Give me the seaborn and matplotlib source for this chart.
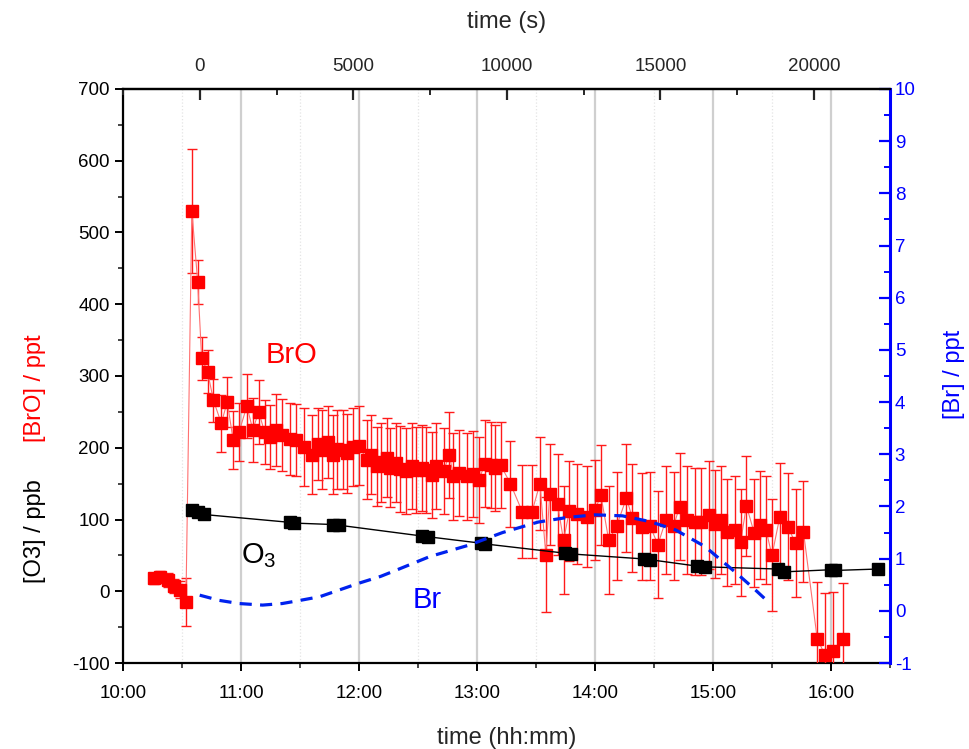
import matplotlib
matplotlib.use("Agg")
import matplotlib.pyplot as plt
from matplotlib.ticker import MultipleLocator, FixedLocator
import seaborn as sns
import numpy as np
import pandas as pd

sns.set_theme(style="white")
plt.rcParams['font.family'] = ['Liberation Sans', 'DejaVu Sans']
plt.rcParams['mathtext.default'] = 'regular'
plt.rcParams['axes.unicode_minus'] = False

# ---- data ----
# BrO (ppt): time, value, error
bro_time = ["10:16", "10:19", "10:23", "10:26", "10:29", "10:32",
            "10:35", "10:38", "10:40", "10:43", "10:46", "10:50", "10:53", "10:56", "10:59",
            "11:03", "11:06", "11:09", "11:12", "11:15", "11:18", "11:21", "11:25", "11:28",
            "11:32", "11:36", "11:39", "11:41", "11:44", "11:47", "11:49", "11:52", "11:54",
            "11:57", "12:00", "12:04", "12:06", "12:09", "12:11", "12:14", "12:16", "12:19",
            "12:21", "12:24", "12:27", "12:29", "12:32", "12:34", "12:37", "12:39", "12:43",
            "12:46", "12:48", "12:51", "12:55", "12:58", "13:01", "13:04", "13:07", "13:09",
            "13:12", "13:17", "13:23", "13:28", "13:32", "13:35", "13:37", "13:41", "13:44",
            "13:47", "13:51", "13:56", "14:00", "14:03", "14:07", "14:11", "14:16", "14:19",
            "14:24", "14:28", "14:32", "14:36", "14:40", "14:43", "14:47", "14:51", "14:54",
            "14:58", "15:01", "15:04", "15:07", "15:11", "15:14", "15:17", "15:21", "15:24",
            "15:27", "15:30", "15:34", "15:38", "15:42", "15:46", "15:53", "15:57", "16:01",
            "16:06"]
bro_value = [18, 20, 16, 7, 2, -15,
             530, 431, 325, 306, 266, 234, 264, 211, 222,
             258, 225, 250, 222, 215, 225, 218, 212, 211,
             201, 190, 205, 197, 208, 190, 198, 197, 192,
             201, 203, 183, 190, 174, 180, 186, 172, 179,
             170, 167, 175, 169, 172, 169, 162, 174, 168,
             190, 160, 165, 160, 163, 155, 178, 176, 172,
             176, 150, 111, 111, 150, 51, 135, 121, 71,
             112, 108, 104, 113, 134, 71, 91, 130, 102,
             90, 91, 65, 99, 91, 118, 99, 97, 97,
             106, 94, 99, 82, 85, 68, 119, 81, 92,
             85, 50, 104, 90, 67, 83, -66, -89, -83,
             -67]
bro_error = [8, 8, 10, 10, 12, 33,
             86, 30, 30, 30, 30, 40, 35, 40, 40,
             45, 45, 45, 45, 45, 50, 50, 50, 50,
             55, 55, 50, 55, 50, 55, 55, 55, 55,
             55, 55, 55, 55, 55, 55, 55, 55, 55,
             60, 60, 60, 60, 60, 60, 60, 60, 60,
             60, 60, 60, 60, 60, 60, 60, 60, 60,
             60, 60, 65, 65, 65, 80, 70, 70, 75,
             70, 70, 70, 70, 70, 75, 75, 75, 75,
             75, 75, 75, 75, 75, 75, 75, 75, 75,
             75, 75, 75, 75, 75, 75, 70, 75, 75,
             75, 78, 75, 75, 75, 70, 79, 87, 82,
             79]

# O3 (ppb)
o3_time = ["10:35", "10:38", "10:41", "11:25", "11:27", "11:47", "11:50", "12:32",
           "12:35", "13:02", "13:04", "13:45", "13:48", "14:25", "14:28", "14:52",
           "14:56", "15:33", "15:36", "16:00", "16:02", "16:24"]
o3_value = [113, 110, 107, 96, 95, 93, 92, 77, 76, 67, 66, 53, 52, 45, 44, 35,
            34, 31, 27, 30, 29, 31]

# Br (ppt, right axis)
br_time = ["10:39", "10:49", "10:59", "11:11", "11:21", "11:30", "11:40", "11:50",
           "12:00", "12:11", "12:19", "12:36", "12:56", "13:13", "13:31", "13:46",
           "14:00", "14:14", "14:28", "14:41", "14:56", "15:12", "15:21", "15:29"]
br_value = [0.30, 0.20, 0.14, 0.11, 0.14, 0.20, 0.27, 0.40,
            0.53, 0.66, 0.78, 1.04, 1.26, 1.50, 1.70, 1.79,
            1.84, 1.82, 1.71, 1.55, 1.23, 0.72, 0.42, 0.14]

hour_ticks = [10, 11, 12, 13, 14, 15, 16]
sec_ticks = [0, 5000, 10000, 15000, 20000]


def to_hours(times):
    t = pd.to_datetime(pd.Series(times), format="%H:%M")
    return (t.dt.hour + t.dt.minute / 60.0).to_numpy()


bro = pd.DataFrame({'hours': to_hours(bro_time), 'BrO': bro_value, 'err': bro_error})
o3 = pd.DataFrame({'hours': to_hours(o3_time), 'O3': o3_value})
br = pd.DataFrame({'hours': to_hours(br_time), 'Br': br_value})

# ---- figure ----
fig = plt.figure(figsize=(9.7, 7.49), dpi=100)
ax = fig.add_axes([0.1268, 0.1148, 0.7907, 0.7664])

# grid
ax.set_xlim(10, 16.5)
ax.set_ylim(-100, 700)
ax.xaxis.set_major_locator(FixedLocator(hour_ticks))
ax.xaxis.set_minor_locator(MultipleLocator(0.5))
ax.set_xticklabels([f"{h}:00" for h in hour_ticks])
ax.yaxis.set_major_locator(MultipleLocator(100))
ax.yaxis.set_minor_locator(MultipleLocator(50))
ax.grid(False)
ax.grid(True, axis='x', which='major', color='#cfcfcf', lw=1.6, zorder=0)
ax.grid(True, axis='x', which='minor', color='#e4e4e4', lw=0.9, ls=':', zorder=0)

# BrO
ax.errorbar(bro['hours'], bro['BrO'], yerr=bro['err'], fmt='none',
            ecolor='#ff1a1a', elinewidth=1.0, capsize=3.5, capthick=1.0, zorder=3)
sns.lineplot(data=bro, x='hours', y='BrO', ax=ax, color='#ff7070', lw=0.8,
             sort=False, estimator=None, zorder=3)
ax.plot(bro['hours'], bro['BrO'], ls='none', marker='s', ms=9,
        color='#ff0000', mec='#ff0000', zorder=4)

# O3
sns.lineplot(data=o3, x='hours', y='O3', ax=ax, color='black', lw=1.0,
             sort=False, estimator=None, zorder=5)
ax.plot(o3['hours'], o3['O3'], ls='none', marker='s', ms=9,
        color='black', zorder=6)

ax.set_xlabel("time (hh:mm)", fontsize=17, labelpad=18)
ax.set_ylabel("")
ax.tick_params(axis='both', which='major', labelsize=13.5, direction='out',
               length=6, width=1.4, colors='black', top=False, right=False,
               bottom=True, left=True, labelleft=True)
ax.tick_params(axis='x', which='major', pad=10)
ax.tick_params(axis='both', which='minor', direction='out', length=3.5,
               width=1.2, top=False, right=False, bottom=True, left=True)
for s in ['left', 'bottom', 'top']:
    ax.spines[s].set_color('black')
    ax.spines[s].set_linewidth(1.6)
ax.spines['right'].set_visible(False)

# right axis: Br
ax_r = ax.twinx()
ax_r.set_ylim(-1, 10)
sns.lineplot(data=br, x='hours', y='Br', ax=ax_r, color='#0022ee', lw=2.3,
             sort=False, estimator=None, zorder=5)
ax_r.lines[0].set_linestyle((0, (3.8, 2.6)))
ax_r.set_ylabel("")
ax_r.yaxis.set_major_locator(MultipleLocator(1))
ax_r.yaxis.set_minor_locator(MultipleLocator(0.5))
ax_r.tick_params(axis='y', which='major', direction='in', length=8, width=1.6,
                 colors='#0000ff', labelsize=13.5, right=True, left=False)
ax_r.tick_params(axis='y', which='minor', direction='in', length=4.5, width=1.4,
                 colors='#0000ff', right=True, left=False)
ax_r.spines['right'].set_color('#0000ff')
ax_r.spines['right'].set_linewidth(2.2)
ax_r.spines['left'].set_visible(False)
ax_r.spines['top'].set_visible(False)
ax_r.spines['bottom'].set_visible(False)
ax_r.grid(False)

# top axis: time in s
ax_t = ax.twiny()
ax_t.set_xlim(-2508, 22476)
ax_t.xaxis.set_major_locator(FixedLocator(sec_ticks))
ax_t.xaxis.set_minor_locator(MultipleLocator(2500))
ax_t.tick_params(axis='x', which='major', direction='in', length=8, width=1.6,
                 labelsize=13.5, top=True, bottom=False, pad=10)
ax_t.tick_params(axis='x', which='minor', direction='in', length=4.5, width=1.4,
                 top=True, bottom=False)
ax_t.tick_params(axis='y', left=False, right=False, labelleft=False, labelright=False)
ax_t.set_xlabel("time (s)", fontsize=17, labelpad=22)
ax_t.grid(False)
for s in ['left', 'right', 'bottom']:
    ax_t.spines[s].set_visible(False)
ax_t.spines['top'].set_linewidth(1.6)
ax_t.spines['top'].set_color('black')

# in-plot labels
ax.text(11.43, 329, "BrO", color='#ff0000', fontsize=21, ha='center', va='center', zorder=7)
ax.text(11.0, 50, "O$_3$", color='black', fontsize=21, ha='left', va='center', zorder=7)
ax.text(12.58, -12, "Br", color='#0000ff', fontsize=21, ha='center', va='center', zorder=7)

# axis titles (two-colour left label)
fig.text(0.036, 0.291, "[O3] / ppb", rotation=90, color='black', fontsize=17,
         ha='center', va='center')
fig.text(0.036, 0.482, "[BrO] / ppt", rotation=90, color='#ff0000', fontsize=17,
         ha='center', va='center')
fig.text(0.984, 0.50, "[Br] / ppt", rotation=90, color='#0000ff', fontsize=17,
         ha='center', va='center')

fig.savefig("out.png", dpi=100, facecolor='white')
